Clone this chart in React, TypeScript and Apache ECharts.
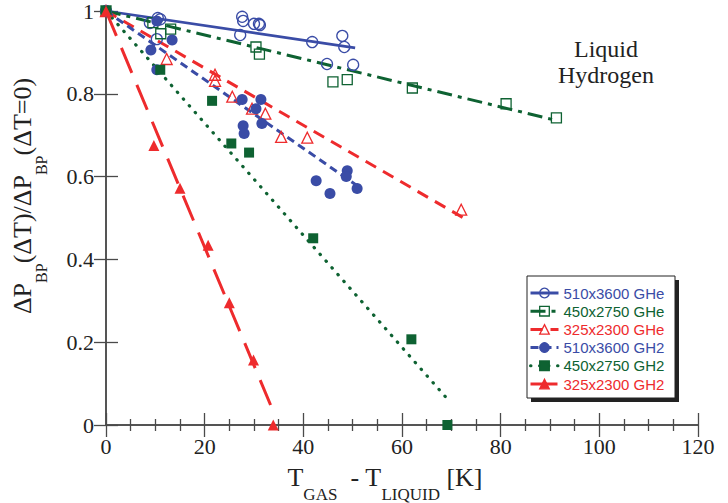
import React, { useEffect, useRef } from 'react';
import * as echarts from 'echarts';

const BLUE = '#3a4ca6';
const GREEN = '#0e6232';
const RED = '#ee2b2d';

const seriesNames = [
  '510x3600 GHe',
  '450x2750 GHe',
  '325x2300 GHe',
  '510x3600 GH2',
  '450x2750 GH2',
  '325x2300 GH2',
];
const seriesColors = [BLUE, GREEN, RED, BLUE, GREEN, RED];

// measured points [T_gas - T_liquid, ratio]
const ghe510 = [
  [0, 1], [8.9, 0.971], [10.5, 0.983], [11, 0.98], [10.3, 0.932], [27.6, 0.986], [27.8, 0.976],
  [30, 0.969], [31, 0.969], [31.2, 0.966], [27.2, 0.942], [41.8, 0.925], [47.9, 0.94],
  [48.3, 0.913], [44.8, 0.872], [50.1, 0.87],
];
const ghe450 = [
  [0, 1], [9.5, 0.972], [11.1, 0.945], [13.1, 0.956], [30.4, 0.913], [31.1, 0.896],
  [46, 0.829], [48.9, 0.834], [62.1, 0.814], [81.1, 0.776], [91.3, 0.742],
];
const ghe325 = [
  [0, 1], [12.3, 0.884], [22.1, 0.846], [22.1, 0.831], [25.6, 0.793], [29.6, 0.764],
  [32.3, 0.752], [35.5, 0.696], [40.8, 0.694], [72, 0.52],
];
const gh2_510 = [
  [0, 1], [10.3, 0.976], [13.4, 0.93], [9.1, 0.906], [10.3, 0.858], [27.6, 0.786],
  [31.4, 0.786], [30.4, 0.764], [27.8, 0.723], [28, 0.704], [31.6, 0.728], [42.6, 0.59],
  [45.4, 0.559], [48.9, 0.614], [48.7, 0.6], [50.9, 0.571],
];
const gh2_450 = [
  [0, 1], [11, 0.858], [21.5, 0.783], [25.4, 0.68], [29, 0.658], [42, 0.451], [61.9, 0.207], [69.2, 0.0],
];
const gh2_325 = [
  [0, 1], [9.7, 0.675], [15, 0.572], [20.7, 0.434], [25, 0.295], [29.9, 0.157], [33.9, 0.0],
];

// fitted trend lines (end points)
const fitGhe510 = [[0, 1], [50.5, 0.911]];
const fitGhe450 = [[0, 1], [91.5, 0.735]];
const fitGhe325 = [[0, 1], [72.5, 0.5]];
const fitGh2_510 = [[0, 1], [51.5, 0.573]];
const fitGh2_450 = [[0, 1], [69.2, 0.063]];
const fitGh2_325 = [[0, 1], [34, 0.03]];

const points = [ghe510, ghe450, ghe325, gh2_510, gh2_450, gh2_325];
const fits = [fitGhe510, fitGhe450, fitGhe325, fitGh2_510, fitGh2_450, fitGh2_325];

const symbols = ['circle', 'rect', 'triangle', 'circle', 'rect', 'triangle'];
const symbolSizes = [11, 10, 11, 11, 10, 11];
const hollow = [true, true, true, false, false, false];
const lineWidths = [2.6, 3, 3, 3, 3.2, 3];
const lineTypes: any[] = ['solid', [15, 6, 4, 6], [12, 8], [8, 5], [0.5, 8.5], [27, 13]];
const lineCaps = ['butt', 'butt', 'butt', 'butt', 'round', 'butt'];

const xMin = 0, xMax = 120, xStep = 20;
const yMin = 0, yMax = 1, yStep = 0.2;

const SERIF = "'Liberation Serif', 'Times New Roman', 'DejaVu Serif', serif";
const SANS = "'Liberation Sans', Arial, sans-serif";

export default function App() {
  const ref = useRef<HTMLDivElement>(null);
  useEffect(() => {
    if (!ref.current) return;
    const chart = echarts.init(ref.current, undefined, { renderer: 'svg' });

    const itemStyleFor = (i: number) =>
      hollow[i]
        ? { color: 'rgba(255,255,255,0)', borderColor: seriesColors[i], borderWidth: 1.3, opacity: 1 }
        : { color: seriesColors[i], borderColor: seriesColors[i], borderWidth: 0, opacity: 1 };

    const lineSeries = seriesNames.map((name, i) => ({
      type: 'line',
      name,
      data: fits[i],
      showSymbol: false,
      symbol: symbols[i],
      symbolSize: symbolSizes[i],
      itemStyle: itemStyleFor(i),
      lineStyle: { color: seriesColors[i], width: lineWidths[i], type: lineTypes[i], cap: lineCaps[i] },
      silent: true,
      z: 2,
    }));
    const scatterSeries = seriesNames.map((name, i) => ({
      type: 'scatter',
      name,
      data: points[i],
      symbol: symbols[i],
      symbolSize: symbolSizes[i],
      itemStyle: itemStyleFor(i),
      silent: true,
      z: 3,
    }));

    const axisLine = { show: true, lineStyle: { color: '#4a4a4a', width: 1.5 } };
    const tickStyle = { color: '#4a4a4a', width: 1.3 };

    const yRich = {
      m: { fontFamily: SERIF, fontSize: 26, lineHeight: 30, verticalAlign: 'top', fill: '#222' },
      s: { fontFamily: SERIF, fontSize: 16, lineHeight: 13, padding: [24, 0, 0, 0], verticalAlign: 'top', fill: '#222' },
    };
    const xRich = {
      m: { fontFamily: SERIF, fontSize: 26, lineHeight: 30, verticalAlign: 'top', fill: '#222' },
      s: { fontFamily: SERIF, fontSize: 17, lineHeight: 13, padding: [22, 0, 0, 0], verticalAlign: 'top', fill: '#222' },
    };

    const option: any = {
      animation: false,
      backgroundColor: '#fff',
      textStyle: { fontFamily: SERIF },
      grid: { left: 106, top: 10, right: 30, bottom: 78, containLabel: false },
      xAxis: [
        {
          type: 'value', min: xMin, max: xMax, interval: xStep, position: 'bottom',
          axisLine, axisTick: { inside: true, length: 12, lineStyle: tickStyle },
          minorTick: { show: true, splitNumber: 4, length: 6, lineStyle: tickStyle },
          splitLine: { show: false },
          axisLabel: { fontFamily: SERIF, fontSize: 22, color: '#222', margin: 10 },
        },
        {
          type: 'value', min: xMin, max: xMax, interval: xStep, position: 'top',
          axisLine, axisTick: { inside: true, length: 12, lineStyle: tickStyle },
          minorTick: { show: true, splitNumber: 4, length: 6, lineStyle: tickStyle },
          splitLine: { show: false }, axisLabel: { show: false },
        },
      ],
      yAxis: [
        {
          type: 'value', min: yMin, max: yMax, interval: yStep, position: 'left',
          axisLine, axisTick: { inside: true, length: 12, lineStyle: tickStyle },
          splitLine: { show: false },
          axisLabel: { fontFamily: SERIF, fontSize: 22, color: '#222', margin: 12 },
        },
        {
          type: 'value', min: yMin, max: yMax, interval: yStep, position: 'right',
          axisLine, axisTick: { inside: true, length: 12, lineStyle: tickStyle },
          splitLine: { show: false }, axisLabel: { show: false },
        },
      ],
      legend: {
        orient: 'vertical',
        left: 529,
        top: 284,
        padding: 0,
        itemWidth: 28,
        itemHeight: 12,
        itemGap: 0.2,
        itemStyle: { borderWidth: 1.3 },
        lineStyle: { width: 3 },
        textStyle: { fontFamily: SANS, fontSize: 15, lineHeight: 18 },
        selectedMode: false,
        data: seriesNames.map((n, i) => ({ name: n, textStyle: { color: seriesColors[i] } })),
      },
      graphic: [
        { type: 'rect', shape: { x: 531, y: 280, width: 148, height: 122 }, style: { fill: '#222' }, z: 0 },
        { type: 'rect', shape: { x: 527, y: 276, width: 148, height: 122 }, style: { fill: '#fff', stroke: '#222', lineWidth: 1 }, z: 1 },
        {
          type: 'text', x: 606, y: 36, z: 5,
          style: {
            text: 'Liquid\nHydrogen', fontFamily: SERIF, fontSize: 24, lineHeight: 26,
            align: 'center', verticalAlign: 'top', fill: '#222',
          },
        },
        {
          type: 'text', x: 24, y: 196, rotation: Math.PI / 2, z: 5,
          style: {
            text: '{m|ΔP}{s|BP}{m|(ΔT)/ΔP}{s|BP}{m|(ΔT=0)}',
            align: 'center', verticalAlign: 'middle', fill: '#222', fontFamily: SERIF,
            rich: yRich,
          },
        },
        {
          type: 'text', x: 385, y: 479, z: 5,
          style: {
            text: '{m|T}{s|GAS}{m|  - T}{s|LIQUID}{m| [K]}',
            align: 'center', verticalAlign: 'middle', fill: '#222', fontFamily: SERIF,
            rich: xRich,
          },
        },
      ],
      series: [...lineSeries, ...scatterSeries],
    };
    chart.setOption(option);
    return () => chart.dispose();
  }, []);
  return <div ref={ref} style={{ position: 'absolute', left: 0, top: 0, width: 728, height: 503 }} />;
}
